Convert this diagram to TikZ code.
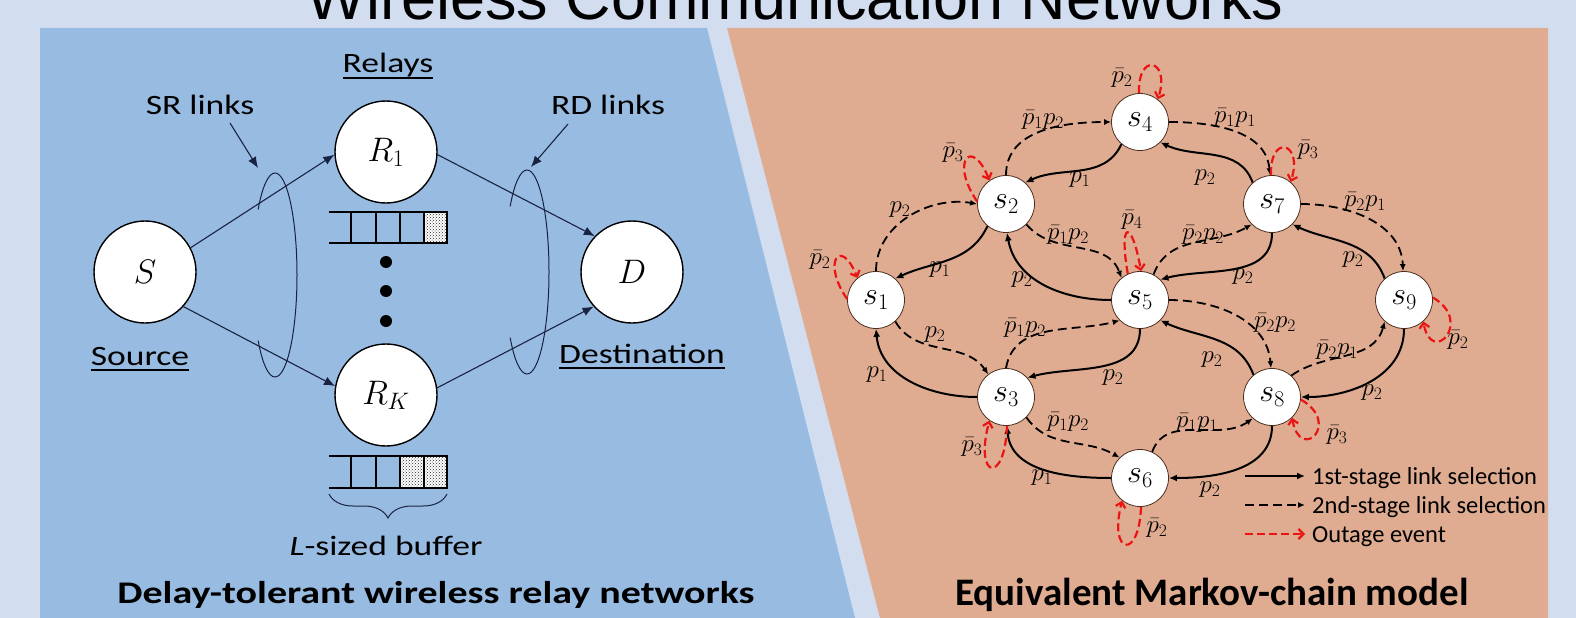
\documentclass[tikz,border=0pt]{standalone}
\usepackage{fix-cm}
\usepackage[no-math]{fontspec}
\setmainfont{Carlito}
\newfontfamily\lfont{Carlito}[FakeStretch=1.27]
\newfontfamily\tfont{Liberation Sans}
\usetikzlibrary{arrows.meta,decorations.pathreplacing,patterns}
\definecolor{bgc}{RGB}{210,222,240}
\definecolor{bluep}{RGB}{152,187,225}
\definecolor{orangep}{RGB}{223,172,145}
\definecolor{navy}{RGB}{25,35,65}
\definecolor{nodeb}{RGB}{75,45,30}
\definecolor{outred}{RGB}{235,20,20}
\begin{document}
\begin{tikzpicture}[x=1pt,y=1pt,
  lnode/.style={circle,draw=black,line width=1.4pt,fill=white,minimum size=102pt,inner sep=0pt,font=\fontsize{34}{34}\selectfont},
  llab/.style={font=\lfont\fontsize{28}{30}\selectfont,inner sep=0pt,anchor=base},
  link/.style={draw=navy,line width=1.1pt,-{Latex[length=11pt,width=9pt]}},
  ring/.style={draw=navy,line width=1pt},
  buf/.style={draw=black,line width=1.4pt},
  mnode/.style={circle,draw=nodeb,line width=0.8pt,fill=white,minimum size=57pt,inner sep=0pt,font=\fontsize{32}{32}\selectfont},
  first/.style={line width=2pt,-{Latex[length=8pt,width=7pt]}},
  second/.style={line width=1.8pt,dash pattern=on 9pt off 5pt,-{Latex[length=7pt,width=6pt]}},
  outage/.style={draw=outred,line width=2.2pt,dash pattern=on 8pt off 4pt,-{Straight Barb[length=5pt,width=10pt]}},
  elab/.style={font=\fontsize{25}{25}\selectfont,inner sep=0pt},
  legt/.style={font=\fontsize{24.5}{26}\selectfont,anchor=base west,inner sep=0pt},
]
\useasboundingbox (0,0) rectangle (1576,-618);
\clip (0,0) rectangle (1576,-618);
\fill[bgc] (0,0) rectangle (1576,-618);
\fill[bluep] (40,-28) -- (707,-28) -- (855,-618) -- (40,-618) -- cycle;
\fill[orangep] (727,-28) -- (1548,-28) -- (1548,-618) -- (880,-618) -- cycle;
\node[font=\tfont\fontsize{63}{63}\selectfont,anchor=base,inner sep=0pt] (title) at (795,-20) {Wireless Communication Networks};

% ---------------- left panel ----------------
\node[lnode] (S) at (145,-272) {$S$};
\node[lnode] (R1) at (386,-152) {$R_1$};
\node[lnode] (RK) at (386,-395) {$R_K$};
\node[lnode] (D) at (632,-272) {$D$};

\draw[link] (S.28) -- (R1.183);
\draw[link] (S.-42) -- (RK.170);
\draw[link] (R1.-3) -- (D.136);
\draw[link] (RK.8) -- (D.-138);

% rings
\draw[ring] (275,-377) arc[start angle=-90,end angle=140,x radius=22,y radius=102];
\draw[ring] (275,-377) arc[start angle=270,end angle=220,x radius=22,y radius=102];
\draw[ring] (527,-374) arc[start angle=-90,end angle=140,x radius=22,y radius=102];
\draw[ring] (527,-374) arc[start angle=270,end angle=220,x radius=22,y radius=102];

\node[llab] (srl) at (200,-114) {SR links};
\node[llab] (rdl) at (608,-114) {RD links};
\coordinate (sra) at (230,-123); \coordinate (srb) at (258,-168);
\coordinate (rda) at (568,-124); \coordinate (rdb) at (531,-167);
\draw[link] (sra) -- (srb);
\draw[link] (rda) -- (rdb);

\node[llab] (rel) at (388,-73) {Relays};
\node[llab] (src) at (140,-365) {Source};
\node[llab] (dst) at (642,-363) {Destination};
\draw[line width=1.6pt] ([yshift=-5pt]rel.base west) -- ([yshift=-5pt]rel.base east);
\draw[line width=1.6pt] ([yshift=-5pt]src.base west) -- ([yshift=-5pt]src.base east);
\draw[line width=1.6pt] ([yshift=-5pt]dst.base west) -- ([yshift=-5pt]dst.base east);

% buffers
\foreach \yt/\yb in {-212/-243,-456/-488}{
  \draw[buf] (329,\yt) -- (447,\yt) (329,\yb) -- (447,\yb);
  \foreach \xx in {351,376,400,424,447} \draw[buf] (\xx,\yt) -- (\xx,\yb);
}
\fill[white] (424,-212) rectangle (447,-243);
\fill[pattern=crosshatch dots,pattern color=black!85] (424,-212) rectangle (447,-243);
\fill[white] (400,-456) rectangle (447,-488);
\fill[pattern=crosshatch dots,pattern color=black!85] (400,-456) rectangle (447,-488);
\draw[buf] (424,-212) rectangle (447,-243);
\draw[buf] (400,-456) rectangle (424,-488) (424,-456) rectangle (447,-488);

\fill (386,-262) circle (6);
\fill (386,-291) circle (6);
\fill (386,-321) circle (6);

\draw[navy,line width=1pt,decorate,decoration={brace,mirror,amplitude=24pt}] (329,-494) -- (447,-494);
\node[llab] (lbuf) at (386,-555) {\textit{L}-sized buffer};
\node[font=\lfont\bfseries\fontsize{31.5}{33}\selectfont,anchor=base,inner sep=0pt] (ltitle) at (436,-603) {Delay-tolerant wireless relay networks};

% ---------------- right panel ----------------
\node[mnode] (s1) at (876,-300) {$s_1$};
\node[mnode] (s2) at (1006,-204) {$s_2$};
\node[mnode] (s3) at (1006,-397) {$s_3$};
\node[mnode] (s4) at (1140,-122) {$s_4$};
\node[mnode] (s5) at (1140,-300) {$s_5$};
\node[mnode] (s6) at (1140,-478) {$s_6$};
\node[mnode] (s7) at (1272,-204) {$s_7$};
\node[mnode] (s8) at (1272,-397) {$s_8$};
\node[mnode] (s9) at (1404,-300) {$s_9$};

% first-stage
\draw[first] (s4.-130) to[out=-115,in=25] (s2.48);
\draw[first] (s7.132) to[out=110,in=-25] (s4.-45);
\draw[first] (s2.-130) to[out=-115,in=25] (s1.48);
\draw[first] (s5.180) to[out=180,in=-80] (s2.-88);
\draw[first] (s7.-90) to[out=-90,in=15] (s5.45);
\draw[first] (s9.132) to[out=110,in=-25] (s7.-45);
\draw[first] (s3.180) to[out=180,in=-85] (s1.-90);
\draw[first] (s5.-90) to[out=-90,in=15] (s3.42);
\draw[first] (s8.130) to[out=110,in=-25] (s5.-45);
\draw[first] (s9.-90) to[out=-90,in=0] (s8.0);
\draw[first] (s6.180) to[out=180,in=-85] (s3.-88);
\draw[first] (s8.-90) to[out=-90,in=0] (s6.0);

% second-stage
\draw[second] (s2.90) to[out=90,in=180] (s4.180);
\draw[second] (s4.0) to[out=0,in=95] (s7.94);
\draw[second] (s1.90) to[out=90,in=170] (s2.180);
\draw[second] (s2.-45) to[out=-50,in=110] (s5.130);
\draw[second] (s5.62) to[out=70,in=-150] (s7.-135);
\draw[second] (s5.0) to[out=0,in=95] (s8.92);
\draw[second] (s1.-48) to[out=-60,in=125] (s3.128);
\draw[second] (s3.90) to[out=80,in=-165] (s5.-135);
\draw[second] (s3.-45) to[out=-55,in=150] (s6.135);
\draw[second] (s6.65) to[out=70,in=-145] (s8.-132);
\draw[second] (s7.0) to[out=0,in=92] (s9.92);
\draw[second] (s8.48) to[out=35,in=-105] (s9.-132);

% outage loops
\draw[outage] (s4.92) .. controls +(92:42) and +(72:42) .. (s4.52);
\draw[outage] (s7.92) .. controls +(92:42) and +(72:42) .. (s7.50);
\draw[outage] (s2.175) .. controls +(125:48) and +(112:48) .. (s2.125);
\draw[outage] (s1.178) .. controls +(125:45) and +(112:45) .. (s1.130);
\draw[outage] (s5.115) .. controls +(100:54) and +(100:54) .. (s5.88);
\draw[outage] (s9.5) .. controls +(-30:48) and +(-80:46) .. (s9.-48);
\draw[outage] (s8.-5) .. controls +(-30:48) and +(-80:46) .. (s8.-46);
\draw[outage] (s3.-88) .. controls +(-92:60) and +(-105:60) .. (s3.-125);
\draw[outage] (s6.-88) .. controls +(-92:55) and +(-105:55) .. (s6.-128);

% edge labels
\node[elab] (e1) at (1080,-180) {$p_1$};
\node[elab] (e2) at (1205,-178) {$p_2$};
\node[elab] (e3) at (940,-270) {$p_1$};
\node[elab] (e4) at (1022,-280) {$p_2$};
\node[elab] (e5) at (1243,-277) {$p_2$};
\node[elab] (e6) at (1353,-260) {$p_2$};
\node[elab] (e7) at (877,-375) {$p_1$};
\node[elab] (e8) at (1113,-378) {$p_2$};
\node[elab] (e9) at (1212,-360) {$p_2$};
\node[elab] (e10) at (1372,-393) {$p_2$};
\node[elab] (e11) at (1042,-478) {$p_1$};
\node[elab] (e12) at (1210,-490) {$p_2$};
\node[elab] (e13) at (1043,-120) {$\bar{p}_1p_2$};
\node[elab] (e14) at (1235,-118) {$\bar{p}_1p_1$};
\node[elab] (e15) at (900,-210) {$p_2$};
\node[elab] (e16) at (1068,-235) {$\bar{p}_1p_2$};
\node[elab] (e17) at (1203,-235) {$\bar{p}_2p_2$};
\node[elab] (e18) at (1275,-323) {$\bar{p}_2p_2$};
\node[elab] (e19) at (935,-335) {$p_2$};
\node[elab] (e20) at (1025,-328) {$\bar{p}_1p_2$};
\node[elab] (e21) at (1068,-422) {$\bar{p}_1p_2$};
\node[elab] (e22) at (1197,-423) {$\bar{p}_1p_1$};
\node[elab] (e23) at (1365,-202) {$\bar{p}_2p_1$};
\node[elab] (e24) at (1337,-350) {$\bar{p}_2p_1$};
% loop labels
\node[elab] (o4) at (1122,-78) {$\bar{p}_2$};
\node[elab] (o2) at (953,-153) {$\bar{p}_3$};
\node[elab] (o1) at (820,-260) {$\bar{p}_2$};
\node[elab] (o5) at (1132,-220) {$\bar{p}_4$};
\node[elab] (o7) at (1308,-150) {$\bar{p}_3$};
\node[elab] (o9) at (1458,-340) {$\bar{p}_2$};
\node[elab] (o3) at (972,-447) {$\bar{p}_3$};
\node[elab] (o6) at (1157,-528) {$\bar{p}_2$};
\node[elab] (o8) at (1337,-435) {$\bar{p}_3$};

% legend
\coordinate (g1a) at (1245,-476); \coordinate (g1b) at (1305,-476);
\coordinate (g2a) at (1245,-505); \coordinate (g2b) at (1305,-505);
\coordinate (g3a) at (1245,-534); \coordinate (g3b) at (1305,-534);
\draw[first] (g1a) -- (g1b);
\draw[second] (g2a) -- (g2b);
\draw[outage] (g3a) -- (g3b);
\node[legt] (g1) at (1312,-484) {1st-stage link selection};
\node[legt] (g2) at (1312,-513) {2nd-stage link selection};
\node[legt] (g3) at (1312,-542) {Outage event};

\node[font=\bfseries\fontsize{39}{41}\selectfont,anchor=base,inner sep=0pt] (rtitle) at (1212,-605) {Equivalent Markov-chain model};
\end{tikzpicture}
\end{document}
